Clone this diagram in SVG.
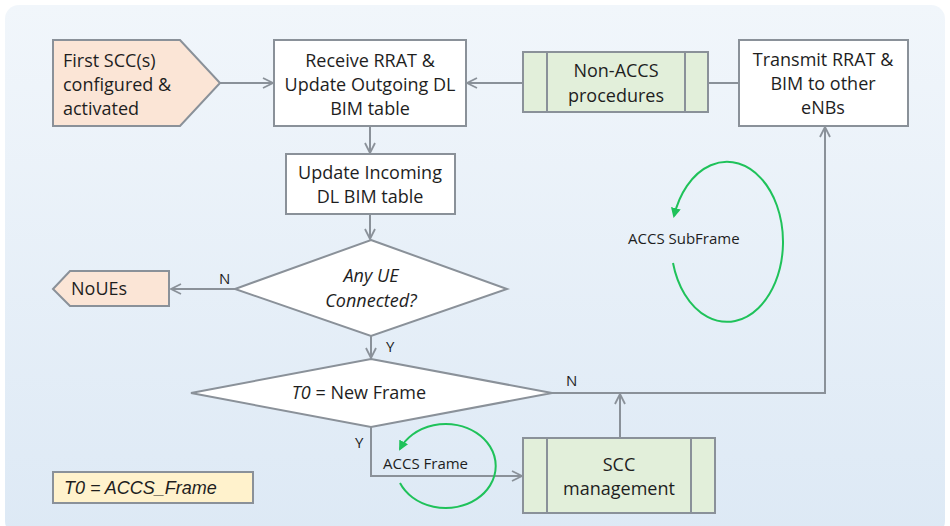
<svg xmlns="http://www.w3.org/2000/svg" width="950" height="526" viewBox="0 0 950 526">
<defs>
<linearGradient id="bg" x1="0" y1="0" x2="0" y2="1">
<stop offset="0" stop-color="#f1f6fb"/>
<stop offset="1" stop-color="#dde9f5"/>
</linearGradient>
<marker id="ah" viewBox="0 0 12 12" refX="11" refY="6" markerWidth="12" markerHeight="12" markerUnits="userSpaceOnUse" orient="auto">
<path d="M1,1 L11,6 L1,11" fill="none" stroke="#8a9199" stroke-width="1.8"/>
</marker>
<marker id="gh" viewBox="0 0 10 10" refX="8" refY="5" markerWidth="10" markerHeight="10" markerUnits="userSpaceOnUse" orient="auto">
<path d="M0,0 L10,5 L0,10 Z" fill="#1fc25a"/>
</marker>
</defs>
<style>
.n{stroke:#8a9199;stroke-width:2}
.w{fill:#ffffff}
.p{fill:#fbe5d6}
.g{fill:#e2efda}
.t{font-family:"Open Sans","Liberation Sans",sans-serif;font-size:18px;fill:#1e1e1e;text-anchor:middle}
.l{text-anchor:start}
.i{font-style:italic}
.s{font-family:"Open Sans","Liberation Sans",sans-serif;font-size:15px;fill:#1e1e1e}
.c{fill:none;stroke:#8a9199;stroke-width:2}
.gr{fill:none;stroke:#1fc25a;stroke-width:2}
</style>
<rect x="5" y="5" width="940" height="530" rx="14" fill="url(#bg)"/>

<g id="connectors">
<path class="c" d="M220,83 L273,83" marker-end="url(#ah)"/>
<path class="c" d="M523,83 L467,83" marker-end="url(#ah)"/>
<path class="c" d="M708,83 L739,83"/>
<path class="c" d="M370,126 L370,153" marker-end="url(#ah)"/>
<path class="c" d="M370,214 L370,239" marker-end="url(#ah)"/>
<path class="c" d="M235,289 L171,289" marker-end="url(#ah)"/>
<path class="c" d="M371,336 L371,358" marker-end="url(#ah)"/>
<path class="c" d="M552,393 L825,393 L825,127" marker-end="url(#ah)"/>
<path class="c" d="M620,438 L620,394" marker-end="url(#ah)"/>
<path class="c" d="M371,427 L371,476 L522,476" marker-end="url(#ah)"/>
<text class="s" x="219" y="284">N</text>
<text class="s" x="386" y="352">Y</text>
<text class="s" x="566" y="386">N</text>
<text class="s" x="355" y="448">Y</text>
<text class="s" x="383" y="469">ACCS Frame</text>
<text class="s" x="628" y="244">ACCS SubFrame</text>
<path class="gr" d="M400,483 A50,42 0 1 0 400,449" marker-end="url(#gh)"/>
<path class="gr" d="M673,263 A56,80 0 1 0 674,216" marker-end="url(#gh)"/>
</g>

<g id="first-scc">
<path class="n p" d="M53,40 L180,40 L220,83 L180,126 L53,126 Z"/>
<text class="t l" x="63" y="67">First SCC(s)</text>
<text class="t l" x="63" y="91">configured &amp;</text>
<text class="t l" x="63" y="115">activated</text>
</g>

<g id="receive">
<rect class="n w" x="274" y="40" width="192" height="86"/>
<text class="t" x="370" y="67">Receive RRAT &amp;</text>
<text class="t" x="370" y="91">Update Outgoing DL</text>
<text class="t" x="370" y="115">BIM table</text>
</g>

<g id="non-accs">
<rect class="n g" x="523" y="52" width="185" height="60"/>
<line class="n" x1="547" y1="52" x2="547" y2="112"/>
<line class="n" x1="685" y1="52" x2="685" y2="112"/>
<text class="t" x="616" y="77">Non-ACCS</text>
<text class="t" x="616" y="102">procedures</text>
</g>

<g id="transmit">
<rect class="n w" x="739" y="40" width="169" height="86"/>
<text class="t" x="823" y="66">Transmit RRAT &amp;</text>
<text class="t" x="823" y="90">BIM to other</text>
<text class="t" x="823" y="114">eNBs</text>
</g>

<g id="update-incoming">
<rect class="n w" x="286" y="154" width="169" height="60"/>
<text class="t" x="370" y="179">Update Incoming</text>
<text class="t" x="370" y="203">DL BIM table</text>
</g>

<g id="any-ue">
<path class="n w" d="M371,240 L507,289 L371,336 L235,289 Z"/>
<text class="t i" x="371" y="282">Any UE</text>
<text class="t i" x="371" y="307">Connected?</text>
</g>

<g id="noues">
<path class="n p" d="M53,289 L70,271 L169,271 L169,306 L70,306 Z"/>
<text class="t l" x="71" y="295">NoUEs</text>
</g>

<g id="new-frame">
<path class="n w" d="M371,359 L552,393 L371,427 L191,393 Z"/>
<text class="t" x="359" y="399"><tspan class="i">T0</tspan> = New Frame</text>
</g>

<g id="scc-management">
<rect class="n g" x="523" y="438" width="192" height="75"/>
<line class="n" x1="547" y1="438" x2="547" y2="513"/>
<line class="n" x1="691" y1="438" x2="691" y2="513"/>
<text class="t" x="619" y="471">SCC</text>
<text class="t" x="619" y="495">management</text>
</g>

<g id="legend">
<rect class="n" x="53" y="472" width="200" height="31" fill="#fff2cc"/>
<text x="64" y="494" font-family="Liberation Sans, Arial, sans-serif" font-size="18" font-style="italic" fill="#1e1e1e">T0 = ACCS_Frame</text>
</g>
</svg>
